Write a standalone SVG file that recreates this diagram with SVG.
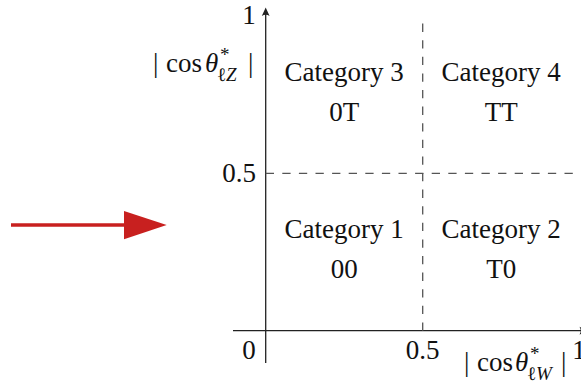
<svg xmlns="http://www.w3.org/2000/svg" width="581" height="384" viewBox="0 0 581 384" font-family="'Liberation Serif', 'DejaVu Serif', 'Times New Roman', serif">
<style>
text{font-family:'Liberation Serif','DejaVu Serif','Times New Roman',serif;fill:#111;}
.lbl{font-size:27px;text-anchor:middle;}
.ax{stroke:#222;stroke-width:1.3;fill:none;}
.dash{stroke:#555;stroke-width:1.3;fill:none;stroke-dasharray:8.3 8.3;}
.it{font-style:italic;}
.sm{font-size:19px;}
</style>
<rect width="581" height="384" fill="#fff"/>
<g id="axes">
<line class="ax" x1="265.7" y1="363" x2="265.7" y2="12"/>
<path d="M265.7,7.5 L269.6,16 Q265.7,13.5 261.8,16 Z" fill="#222"/>
<line class="ax" x1="233" y1="330.7" x2="584" y2="330.7"/>
<path d="M588,330.7 L579.5,326.8 Q582,330.7 579.5,334.6 Z" fill="#222"/>
<text class="lbl" x="249" y="24">1</text>
<text class="lbl" x="239" y="182">0.5</text>
<text class="lbl" x="249" y="359">0</text>
<text class="lbl" x="422.7" y="359">0.5</text>
<text class="lbl" x="579" y="359">1</text>
</g>
<g id="grid">
<line class="dash" x1="265.7" y1="173.3" x2="579.7" y2="173.3"/>
<line class="dash" x1="422.7" y1="330.7" x2="422.7" y2="16"/>
</g>
<g id="ylabel">
<text x="153" y="72" font-size="27">|</text>
<text x="166" y="72" font-size="27">cos</text>
<text x="205" y="72" font-size="27" class="it">θ</text>
<text x="220" y="61" class="sm">*</text>
<text x="217" y="81" class="sm">ℓ<tspan class="it">Z</tspan></text>
<text x="248" y="72" font-size="27">|</text>
</g>
<g id="xlabel">
<text x="464" y="371" font-size="27">|</text>
<text x="477" y="371" font-size="27">cos</text>
<text x="515" y="371" font-size="27" class="it">θ</text>
<text x="530" y="360" class="sm">*</text>
<text x="527" y="380" class="sm">ℓ<tspan class="it">W</tspan></text>
<text x="561" y="371" font-size="27">|</text>
</g>
<g id="cat3">
<text class="lbl" x="344.2" y="81">Category 3</text>
<text class="lbl" x="344.2" y="121">0T</text>
</g>
<g id="cat4">
<text class="lbl" x="501.2" y="81">Category 4</text>
<text class="lbl" x="501.2" y="121">TT</text>
</g>
<g id="cat1">
<text class="lbl" x="344.2" y="238">Category 1</text>
<text class="lbl" x="344.2" y="278">00</text>
</g>
<g id="cat2">
<text class="lbl" x="501.2" y="238">Category 2</text>
<text class="lbl" x="501.2" y="278">T0</text>
</g>
<g id="connectors">
<line x1="11" y1="225" x2="126" y2="225" stroke="#c8201f" stroke-width="3.6"/>
<polygon points="124,211 166.7,225 124,239.3" fill="#c8201f"/>
</g>
</svg>
